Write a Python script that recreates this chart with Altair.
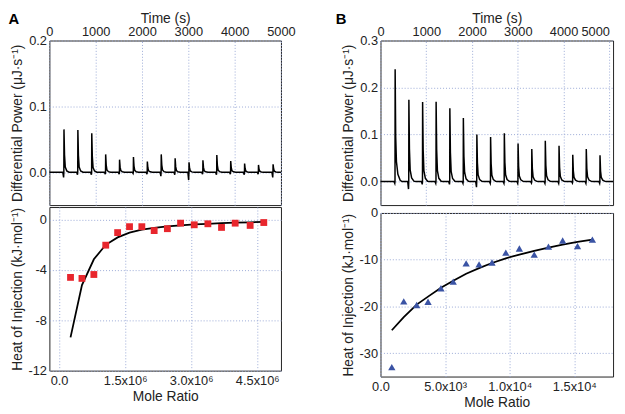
import altair as alt
import pandas as pd

FONT = "Liberation Sans"

# ---------------- Panel A thermogram ----------------
peak_time_A = [315, 615, 915, 1215, 1515, 1815, 2115, 2415, 2715, 3015, 3315, 3615, 3915, 4215, 4515, 4830]
peak_height_A = [0.065, 0.064, 0.059, 0.027, 0.019, 0.023, 0.016, 0.027, 0.021, 0.015, 0.018, 0.026, 0.017, 0.013, 0.011, 0.012]
peak_dip_A = [-0.008, -0.004, -0.004, -0.003, -0.003, -0.002, -0.003, -0.006, -0.004, -0.012, -0.003, -0.004, -0.003, -0.004, -0.003, -0.008]

# ---------------- Panel B thermogram ----------------
peak_time_B = [320, 620, 920, 1215, 1515, 1810, 2105, 2405, 2705, 3005, 3305, 3600, 3900, 4200, 4495, 4795]
peak_height_B = [0.239, 0.174, 0.169, 0.170, 0.156, 0.135, 0.100, 0.095, 0.103, 0.081, 0.069, 0.087, 0.076, 0.057, 0.069, 0.056]
peak_dip_B = [-0.004, -0.016, -0.006, -0.004, -0.006, -0.004, -0.012, -0.004, -0.004, -0.004, -0.003, -0.004, -0.004, -0.003, -0.004, -0.004]
peak_tail_B = [0.014, 0.004, 0.003, 0.003, 0.003, 0.003, 0.002, 0.002, 0.002, 0.002, 0.002, 0.002, 0.002, 0.002, 0.002, 0.002]

# ---------------- Panel A binding isotherm ----------------
ratio_A = [0.26e6, 0.52e6, 0.79e6, 1.06e6, 1.33e6, 1.60e6, 1.88e6, 2.16e6, 2.46e6, 2.76e6, 3.07e6, 3.38e6, 3.69e6, 4.00e6, 4.34e6, 4.65e6]
heat_A = [-4.59, -4.67, -4.36, -2.03, -1.03, -0.56, -0.56, -0.87, -0.72, -0.28, -0.41, -0.33, -0.62, -0.28, -0.46, -0.23]
fit_A = [-9.36, -5.2, -3.15, -2.0, -1.41, -1.03, -0.8, -0.66, -0.54, -0.45, -0.38, -0.33, -0.28, -0.24, -0.21, -0.18]

# ---------------- Panel B binding isotherm ----------------
ratio_B = [0.875e3, 1.8e3, 2.8e3, 3.68e3, 4.68e3, 5.63e3, 6.63e3, 7.63e3, 8.63e3, 9.7e3, 10.75e3, 11.9e3, 13.0e3, 14.1e3, 15.25e3, 16.4e3]
heat_B = [-33.0, -18.9, -19.7, -19.0, -16.1, -14.7, -10.8, -11.0, -10.6, -8.5, -7.6, -8.9, -7.2, -5.9, -7.1, -5.7]
fit_B = [-25.1, -22.3, -19.6, -17.9, -16.0, -14.5, -13.0, -11.8, -10.7, -9.7, -8.9, -8.1, -7.4, -6.8, -6.2, -5.7]


def trace(times, heights, dips, tails, t_end):
    rows = [(0, 0.0)]
    for t, h, d, tl in zip(times, heights, dips, tails):
        rows += [(t - 25, 0.0), (t - 8, d), (t - 3, 0.0), (t, h), (t + 12, 0.4 * h),
                 (t + 28, 0.12 * h + tl), (t + 60, 0.03 * h + tl * 0.6), (t + 110, tl * 0.2), (t + 150, 0.0)]
    rows.append((t_end, 0.0))
    return pd.DataFrame(rows, columns=["t", "p"])


dfA_tr = trace(peak_time_A, peak_height_A, peak_dip_A, [0.0] * 16, 5000)
dfB_tr = trace(peak_time_B, peak_height_B, peak_dip_B, peak_tail_B, 5080)
dfA_iso = pd.DataFrame({"r": ratio_A, "h": heat_A, "f": fit_A})
dfB_iso = pd.DataFrame({"r": ratio_B, "h": heat_B, "f": fit_B})

W_A, W_B = 235, 236
H_TOP, H_BOT = 167, 166

NUM = "datum.value == 0 ? '0' : '' + datum.value"


def top_panel(df, width, xmax, ymax, yvals, letter, lx, align):
    base = alt.Chart(df)
    line = base.mark_line(color="black", strokeWidth=1.5).encode(
        x=alt.X("t:Q", scale=alt.Scale(domain=[0, xmax], nice=False, zero=False),
                axis=alt.Axis(orient="top", title="Time (s)", values=[0, 1000, 2000, 3000, 4000, 5000],
                              format="d", labelFlush=False, labelAlign=align,
                              titlePadding=0, labelPadding=2)),
        y=alt.Y("p:Q", scale=alt.Scale(domain=[-0.05, ymax], nice=False, zero=False),
                axis=alt.Axis(title="Differential Power (μJ·s⁻¹)", values=yvals, format=".1f",
                              titlePadding=4, labelPadding=3)),
    )
    lab = alt.Chart(pd.DataFrame({"l": [letter]})).mark_text(
        font=FONT, fontSize=15, fontWeight="bold", color="black", align="center", baseline="middle"
    ).encode(text="l:N", x=alt.value(lx), y=alt.value(-22))
    return alt.layer(line, lab).properties(width=width, height=H_TOP)


def bottom_panel(df, width, xdom, xvals, xexpr, ydom, yvals, color, shape, size):
    base = alt.Chart(df)
    x = alt.X("r:Q", scale=alt.Scale(domain=xdom, nice=False, zero=False),
              axis=alt.Axis(title="Mole Ratio", values=xvals, labelExpr=xexpr, labelFlush=False,
                            labelPadding=4, titlePadding=2))
    y = alt.Y("h:Q", scale=alt.Scale(domain=ydom, nice=False, zero=False),
              axis=alt.Axis(title="Heat of Injection (kJ·mol⁻¹)", values=yvals, labelExpr=NUM,
                            titlePadding=4, labelPadding=3))
    pts = base.mark_point(shape=shape, filled=True, color=color, size=size, opacity=1).encode(x=x, y=y)
    fit = base.mark_line(color="black", strokeWidth=1.8).encode(x="r:Q", y="f:Q")
    return alt.layer(fit, pts).properties(width=width, height=H_BOT)


exprA = "datum.value == 0 ? '0.0' : format(datum.value / 1e6, '.1f') + 'x10⁶'"
exprB = ("datum.value == 0 ? '0.0' : (datum.value < 1e4 ? format(datum.value / 1e3, '.1f') + 'x10³' "
         ": format(datum.value / 1e4, '.1f') + 'x10⁴')")

alignB = {"condition": {"test": "datum.value >= 5000", "value": "right"}, "value": "center"}

colA = alt.vconcat(
    top_panel(dfA_tr, W_A, 5000, 0.2, [0.0, 0.1, 0.2], "A", -36, "center"),
    bottom_panel(dfA_iso, W_A, [-0.22e6, 5.04e6], [0, 1.5e6, 3.0e6, 4.5e6], exprA,
                 [-12, 1], [0, -4, -8, -12], "#e8262d", "square", 48),
    spacing=0,
)
colB = alt.vconcat(
    top_panel(dfB_tr, W_B, 5080, 0.3, [0.0, 0.1, 0.2, 0.3], "B", -40, alignB),
    bottom_panel(dfB_iso, W_B, [0, 1.8e4], [0, 5e3, 1e4, 1.5e4], exprB,
                 [-35, 0], [0, -10, -20, -30], "#3a53a4", "triangle-up", 55),
    spacing=0,
)

chart = alt.hconcat(colA, colB, spacing=40).configure_axis(
    labelFont=FONT, titleFont=FONT, labelFontSize=13, titleFontSize=14,
    titleFontWeight="normal", labelColor="#222", titleColor="#222",
    grid=True, gridColor="#9aaad6", gridDash=[1, 2], gridWidth=1,
    domain=False, ticks=False,
).configure_view(stroke="#222", strokeWidth=1).properties(padding=0)

chart.save("out.html", embed_options={"renderer": "svg", "actions": False})
